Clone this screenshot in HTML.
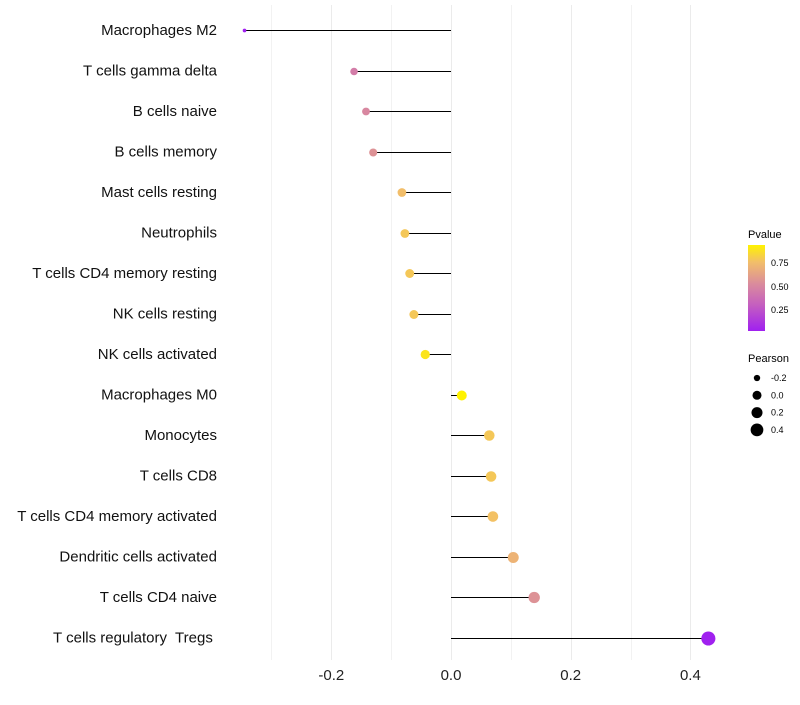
<!DOCTYPE html>
<html><head><meta charset="utf-8"><style>
body{margin:0;background:#fff;font-family:"Liberation Sans",sans-serif}
text{white-space:pre}
</style></head><body>
<svg id="chart" width="800" height="700" xmlns="http://www.w3.org/2000/svg">
<defs><linearGradient id="pg" x1="0" y1="1" x2="0" y2="0">
<stop offset="0" stop-color="#A020F0"/><stop offset="0.3" stop-color="#C45EC0"/><stop offset="0.55" stop-color="#DA8C9C"/><stop offset="0.8" stop-color="#F2BE6A"/><stop offset="1" stop-color="#FFF200"/></linearGradient></defs>
<g id="grid"></g><g id="marks"></g><g id="labels"></g><g id="legend"></g>
</svg>
<script>
const categories=["Macrophages M2","T cells gamma delta","B cells naive","B cells memory","Mast cells resting","Neutrophils","T cells CD4 memory resting","NK cells resting","NK cells activated","Macrophages M0","Monocytes","T cells CD8","T cells CD4 memory activated","Dendritic cells activated","T cells CD4 naive","T cells regulatory  Tregs "];
const pearson=[-0.345,-0.162,-0.142,-0.13,-0.082,-0.077,-0.069,-0.062,-0.043,0.018,0.064,0.067,0.07,0.104,0.139,0.43];
const pvalue=[0.02,0.45,0.5,0.55,0.75,0.78,0.78,0.78,0.88,0.95,0.78,0.78,0.76,0.7,0.55,0.03];
const xTicks=[-0.2,0,0.2,0.4];
const xTickLabels=["-0.2","0.0","0.2","0.4"];
const minorTicks=[-0.3,-0.1,0.1,0.3];
const NS="http://www.w3.org/2000/svg";
const x=v=>451+v*598.5;
const y=i=>30+i*40.5;
const rad=v=>Math.sqrt(Math.max(2.5,24+60*v));
function col(p){const st=[[0,[160,32,240]],[0.3,[196,94,192]],[0.55,[218,140,156]],[0.8,[242,190,106]],[1,[255,242,0]]];
 const t=Math.max(0,Math.min(1,(p-0.027)/(0.93-0.027)));
 for(let k=1;k<st.length;k++){if(t<=st[k][0]){const a=st[k-1],b=st[k],f=(t-a[0])/(b[0]-a[0]);return `rgb(${a[1].map((c,j)=>Math.round(c+(b[1][j]-c)*f)).join(',')})`;}}return 'rgb(255,242,0)';}
function mk(tag,attrs,parent,text){const e=document.createElementNS(NS,tag);for(const k in attrs)e.setAttribute(k,attrs[k]);if(text!==undefined)e.textContent=text;document.getElementById(parent).appendChild(e);return e;}
minorTicks.forEach(v=>{const l=mk('line',{x1:Math.round(x(v))+0.5,x2:Math.round(x(v))+0.5,y1:5,y2:660,stroke:'#f2f2f2','stroke-width':1},'grid');

});
xTicks.forEach((v,i)=>{const l=mk('line',{x1:Math.round(x(v))+0.5,x2:Math.round(x(v))+0.5,y1:5,y2:660,stroke:'#ebebeb','stroke-width':1},'grid');


const t=mk('text',{x:x(v),y:680,'text-anchor':'middle','font-size':15,fill:'#222'},'labels',xTickLabels[i]);

});
categories.forEach((c,i)=>{const yy=Math.round(y(i))+0.5;
const l=mk('line',{x1:x(0),x2:x(pearson[i]),y1:yy,y2:yy,stroke:'#000','stroke-width':1},'marks');


const d=mk('circle',{cx:x(pearson[i]),cy:yy,r:rad(pearson[i]),fill:col(pvalue[i])},'marks');


const t=mk('text',{x:217,y:y(i)+5,'text-anchor':'end','font-size':15,fill:'#111'},'labels',c);

});
const lg=document.getElementById('legend');
lg.innerHTML=`<text x="748" y="238" font-size="11">Pvalue</text>
<rect x="748" y="245" width="17" height="86" fill="url(#pg)"/>
<text x="771" y="266" font-size="9">0.75</text>
<text x="771" y="290" font-size="9">0.50</text>
<text x="771" y="313" font-size="9">0.25</text>
<text x="748" y="362" font-size="11">Pearson</text>`;
const legVals=[-0.2,0,0.2,0.4],legLab=["-0.2","0.0","0.2","0.4"];
legVals.forEach((v,i)=>{const cy=378+i*17.3;
const c=mk('circle',{cx:757,cy:cy,r:rad(v)*0.92,fill:'#000'},'legend');


const t=mk('text',{x:771,y:cy+3,'font-size':9},'legend',legLab[i]);

});
</script>
</body></html>
